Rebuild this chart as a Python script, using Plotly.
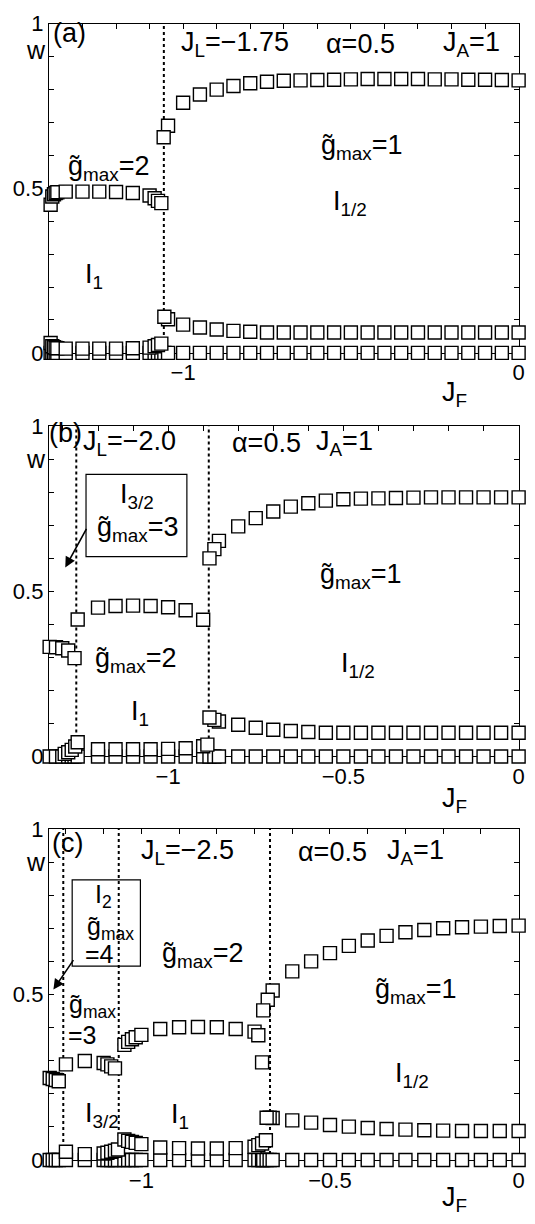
import plotly.graph_objects as go

FONT = "Liberation Sans, Arial, Helvetica, sans-serif"
W, H = 535, 1224

# ---------------- panel (a): J_L = -1.75 ----------------
a_up_J = [0.0, -0.05, -0.1, -0.15, -0.2, -0.25, -0.3, -0.35, -0.4, -0.45, -0.5, -0.55,
          -0.6, -0.65, -0.7, -0.75, -0.8, -0.85, -0.9, -0.95, -1.0, -1.045, -1.058]
a_up_w = [0.828, 0.829, 0.830, 0.830, 0.831, 0.831, 0.832, 0.832, 0.832, 0.832, 0.831, 0.830,
          0.829, 0.828, 0.827, 0.824, 0.819, 0.811, 0.80, 0.785, 0.76, 0.69, 0.655]
a_low_J = [0.0, -0.05, -0.1, -0.15, -0.2, -0.25, -0.3, -0.35, -0.4, -0.45, -0.5, -0.55,
           -0.6, -0.65, -0.7, -0.75, -0.8, -0.85, -0.9, -0.95, -1.0, -1.045, -1.056]
a_low_w = [0.062, 0.062, 0.062, 0.062, 0.062, 0.062, 0.062, 0.062, 0.062, 0.062, 0.062, 0.062,
           0.062, 0.062, 0.062, 0.062, 0.064, 0.067, 0.071, 0.077, 0.086, 0.102, 0.11]
a_mid_J = [-1.395, -1.39, -1.385, -1.38, -1.375, -1.35, -1.3, -1.25, -1.2, -1.15, -1.1,
           -1.085, -1.075, -1.065]
a_mid_w = [0.45, 0.475, 0.482, 0.486, 0.488, 0.49, 0.49, 0.49, 0.489, 0.486, 0.478,
           0.47, 0.462, 0.455]
a_sml_J = [-1.395, -1.39, -1.385, -1.38, -1.375, -1.35, -1.3, -1.25, -1.2, -1.15, -1.1,
           -1.085, -1.075, -1.065]
a_sml_w = [0.03, 0.02, 0.017, 0.015, 0.014, 0.013, 0.013, 0.013, 0.013, 0.014, 0.016,
           0.02, 0.024, 0.028]
a_zero_J = [-1.395, -1.39, -1.385, -1.38, -1.375, -1.35, -1.3, -1.25, -1.2, -1.15, -1.1,
            -1.085, -1.075, -1.065, -1.056, -1.045, -1.0, -0.95, -0.9, -0.85, -0.8, -0.75,
            -0.7, -0.65, -0.6, -0.55, -0.5, -0.45, -0.4, -0.35, -0.3, -0.25, -0.2, -0.15,
            -0.1, -0.05, 0.0]
a_trans = [-1.0575]

# ---------------- panel (b): J_L = -2.0 ----------------
b_left_J = [-1.338, -1.32, -1.302, -1.285, -1.267]
b_left_w = [0.332, 0.331, 0.328, 0.321, 0.298]
b_mid_J = [-1.258, -1.2, -1.15, -1.1, -1.05, -1.0, -0.95, -0.9]
b_mid_w = [0.415, 0.451, 0.456, 0.457, 0.456, 0.452, 0.443, 0.414]
b_up_J = [0.0, -0.05, -0.1, -0.15, -0.2, -0.25, -0.3, -0.35, -0.4, -0.45, -0.5, -0.55,
          -0.6, -0.65, -0.7, -0.75, -0.8, -0.855, -0.868, -0.882]
b_up_w = [0.785, 0.785, 0.785, 0.785, 0.785, 0.785, 0.784, 0.783, 0.782, 0.781, 0.779, 0.775,
          0.767, 0.757, 0.742, 0.722, 0.697, 0.653, 0.628, 0.60]
b_low_J = [0.0, -0.05, -0.1, -0.15, -0.2, -0.25, -0.3, -0.35, -0.4, -0.45, -0.5, -0.55,
           -0.6, -0.65, -0.7, -0.75, -0.8, -0.855, -0.868, -0.882]
b_low_w = [0.072, 0.072, 0.072, 0.072, 0.072, 0.072, 0.072, 0.072, 0.072, 0.072, 0.072, 0.072,
           0.074, 0.077, 0.081, 0.087, 0.096, 0.106, 0.111, 0.118]
b_sml_J = [-1.295, -1.285, -1.275, -1.265, -1.258, -1.2, -1.15, -1.1, -1.05, -1.0, -0.95,
           -0.9, -0.888]
b_sml_w = [0.008, 0.013, 0.02, 0.03, 0.043, 0.022, 0.022, 0.022, 0.022, 0.023, 0.025,
           0.031, 0.036]
b_zero_J = [-1.338, -1.32, -1.302, -1.285, -1.275, -1.267, -1.258, -1.2, -1.15, -1.1, -1.05,
            -1.0, -0.95, -0.9, -0.882, -0.868, -0.855, -0.8, -0.75, -0.7, -0.65, -0.6,
            -0.55, -0.5, -0.45, -0.4, -0.35, -0.3, -0.25, -0.2, -0.15, -0.1, -0.05, 0.0]
b_trans = [-1.262, -0.884]

# ---------------- panel (c): J_L = -2.5 ----------------
c_i2_J = [-1.243, -1.235, -1.227, -1.219]
c_i2_w = [0.248, 0.245, 0.242, 0.238]
c_i32_J = [-1.2, -1.15, -1.1, -1.09, -1.08, -1.07]
c_i32_w = [0.289, 0.299, 0.293, 0.289, 0.283, 0.277]
c_i1_J = [-1.045, -1.035, -1.025, -1.015, -1.0, -0.95, -0.9, -0.85, -0.8, -0.75, -0.7,
          -0.69, -0.68]
c_i1_w = [0.348, 0.357, 0.365, 0.371, 0.378, 0.396, 0.401, 0.402, 0.401, 0.396, 0.388,
          0.377, 0.295]
c_up_J = [0.0, -0.05, -0.1, -0.15, -0.2, -0.25, -0.3, -0.35, -0.4, -0.45, -0.5, -0.55,
          -0.6, -0.652, -0.665, -0.677]
c_up_w = [0.708, 0.707, 0.705, 0.703, 0.700, 0.695, 0.688, 0.677, 0.663, 0.647, 0.625, 0.600,
          0.570, 0.512, 0.484, 0.452]
c_low_J = [0.0, -0.05, -0.1, -0.15, -0.2, -0.25, -0.3, -0.35, -0.4, -0.45, -0.5, -0.55,
           -0.6, -0.652, -0.66, -0.668]
c_low_w = [0.088, 0.088, 0.088, 0.088, 0.089, 0.090, 0.092, 0.094, 0.097, 0.101, 0.106, 0.113,
           0.120, 0.127, 0.128, 0.128]
c_s1_J = [-1.045, -1.035, -1.025, -1.015, -1.0, -0.95, -0.9, -0.85, -0.8, -0.75, -0.7,
          -0.69, -0.68, -0.67]
c_s1_w = [0.062, 0.058, 0.055, 0.052, 0.048, 0.038, 0.036, 0.035, 0.035, 0.036, 0.04,
          0.045, 0.05, 0.06]
c_s2_J = [-1.2, -1.15, -1.1, -1.09, -1.08, -1.07, -1.062]
c_s2_w = [0.025, 0.018, 0.02, 0.022, 0.025, 0.028, 0.032]
c_zero_J = [-1.243, -1.235, -1.227, -1.219, -1.2, -1.15, -1.1, -1.09, -1.08, -1.07, -1.062,
            -1.045, -1.035, -1.025, -1.015, -1.0, -0.95, -0.9, -0.85, -0.8, -0.75, -0.7,
            -0.69, -0.68, -0.677, -0.668, -0.66, -0.652, -0.6, -0.55, -0.5, -0.45, -0.4,
            -0.35, -0.3, -0.25, -0.2, -0.15, -0.1, -0.05, 0.0]
c_trans = [-1.207, -1.06, -0.659]

# ---------------- axes ticks ----------------
x_minor = [-1.4, -1.3, -1.2, -1.1, -1.0, -0.9, -0.8, -0.7, -0.6, -0.5, -0.4, -0.3, -0.2, -0.1, 0.0]
xlab_a = {-1.0: "\u22121", 0.0: "0"}
xlab_bc = {-1.0: "\u22121", -0.5: "\u22120.5", 0.0: "0"}
y_minor = [0.0, 0.1, 0.2, 0.3, 0.4, 0.5, 0.6, 0.7, 0.8, 0.9, 1.0]
ylab = {0.0: "0", 0.5: "0.5", 1.0: "1"}

x_ranges = [[-1.4, 0.0], [-1.34, 0.0], [-1.245, 0.0]]
# panel frames in pixels (top, bottom)
frames = [(12, 348), (423, 760), (834, 1172)]
XL, XR = 49.5, 524.5

panels = [
    [(a_zero_J, None), (a_sml_J, a_sml_w), (a_mid_J, a_mid_w), (a_low_J, a_low_w), (a_up_J, a_up_w)],
    [(b_zero_J, None), (b_sml_J, b_sml_w), (b_left_J, b_left_w), (b_mid_J, b_mid_w),
     (b_low_J, b_low_w), (b_up_J, b_up_w)],
    [(c_zero_J, None), (c_s2_J, c_s2_w), (c_s1_J, c_s1_w), (c_i2_J, c_i2_w), (c_i32_J, c_i32_w),
     (c_i1_J, c_i1_w), (c_low_J, c_low_w), (c_up_J, c_up_w)],
]
transitions = [a_trans, b_trans, c_trans]

fig = go.Figure()
marker = dict(symbol="square", size=13, color="white", line=dict(color="black", width=1.4))

for i, series in enumerate(panels):
    sfx = "" if i == 0 else str(i + 1)
    for xs, ys in series:
        if ys is None:
            ys = [0.0 for _ in xs]
        fig.add_trace(go.Scatter(x=xs, y=ys, mode="markers", marker=marker,
                                 cliponaxis=False, showlegend=False, hoverinfo="skip",
                                 xaxis="x" + sfx, yaxis="y" + sfx))
    for t in transitions[i]:
        fig.add_shape(type="line", x0=t, x1=t, y0=0, y1=1, xref="x" + sfx, yref="y" + sfx,
                      line=dict(color="black", width=2, dash="dot"), layer="below")

    top, bot = frames[i]
    xr = x_ranges[i]
    xlab = xlab_a if i == 0 else xlab_bc
    xt = [v for v in x_minor if v >= xr[0] - 1e-9]
    axis_common = dict(showline=True, linecolor="black", linewidth=1.2, mirror="ticks",
                       ticks="inside", ticklen=5, tickwidth=1, tickcolor="black",
                       showgrid=False, zeroline=False, layer="below traces",
                       tickfont=dict(family=FONT, size=22, color="black"))
    fig.layout["xaxis" + sfx] = dict(
        domain=[XL / W, XR / W], range=xr, anchor="y" + sfx,
        tickmode="array", tickvals=xt, ticktext=[xlab.get(round(v, 2), "") for v in xt],
        **axis_common)
    fig.layout["yaxis" + sfx] = dict(
        domain=[1 - bot / H, 1 - top / H], range=[0, 1], anchor="x" + sfx,
        tickmode="array", tickvals=y_minor,
        ticktext=[ylab.get(round(v, 2), "") for v in y_minor],
        **axis_common)


def P(xp, yp):
    return xp / W, 1 - yp / H


G = "g\u0303"
# (text, x px, y px, font size)
texts = [
    # panel (a)
    ("(a)", 70, 21, 27), ("J<sub>L</sub>=\u22121.75", 238, 33, 27), ("\u03b1=0.5", 365, 33, 27),
    ("J<sub>A</sub>=1", 477, 33, 27), (G + "<sub>max</sub>=1", 366, 138, 27),
    (G + "<sub>max</sub>=2", 110, 159, 27), ("I<sub>1/2</sub>", 354, 195, 27),
    ("I<sub>1</sub>", 95, 270, 27), ("J<sub>F</sub>", 460, 390, 27), ("w", 36, 39, 25),
    # panel (b)
    ("(b)", 66, 430, 27), ("J<sub>L</sub>=\u22122.0", 131, 440, 27), ("\u03b1=0.5", 270, 440, 27),
    ("J<sub>A</sub>=1", 348, 440, 27), ("I<sub>3/2</sub>", 139, 494, 27),
    (G + "<sub>max</sub>=3", 140, 528, 27), (G + "<sub>max</sub>=1", 365, 576, 27),
    (G + "<sub>max</sub>=2", 138, 662, 27), ("I<sub>1/2</sub>", 362, 667, 27),
    ("I<sub>1</sub>", 142, 716, 27), ("J<sub>F</sub>", 460, 804, 27), ("w", 36, 456, 25),
    # panel (c)
    ("(c)", 68, 848, 27), ("J<sub>L</sub>=\u22122.5", 190, 858, 27), ("\u03b1=0.5", 336, 858, 27),
    ("J<sub>A</sub>=1", 420, 858, 27), ("I<sub>2</sub>", 105, 902, 25),
    (G + "<sub>max</sub>", 112, 935, 25), ("=4", 101, 962, 25),
    (G + "<sub>max</sub>", 94, 1015, 25), ("=3", 83, 1044, 25),
    (G + "<sub>max</sub>=2", 205, 963, 27), (G + "<sub>max</sub>=1", 421, 999, 27),
    ("I<sub>1/2</sub>", 417, 1085, 27), ("I<sub>3/2</sub>", 103, 1126, 27),
    ("I<sub>1</sub>", 182, 1127, 27), ("J<sub>F</sub>", 460, 1212, 27), ("w", 36, 868, 25),
]
for t, xp, yp, fs in texts:
    x, y = P(xp, yp)
    fig.add_annotation(text=t, x=x, y=y, xref="paper", yref="paper", showarrow=False,
                       xanchor="center", yanchor="middle", borderpad=0,
                       font=dict(family=FONT, size=fs, color="black"))

# boxes (pixel rectangles)
for (x0, y0, x1, y1) in [(87, 472, 189, 556), (73, 886, 142, 974)]:
    a0, b0 = P(x0, y0)
    a1, b1 = P(x1, y1)
    fig.add_shape(type="rect", x0=a0, x1=a1, y0=b1, y1=b0, xref="paper", yref="paper",
                  line=dict(color="black", width=1.2), fillcolor="rgba(0,0,0,0)")

# arrows: (tail, head) in pixels
for (tx, ty, hx, hy) in [(88, 527, 66, 567), (75, 967, 54, 998)]:
    x, y = P(hx, hy)
    fig.add_annotation(text="", x=x, y=y, xref="paper", yref="paper", showarrow=True,
                       ax=tx - hx, ay=ty - hy, axref="pixel", ayref="pixel",
                       arrowhead=2, arrowsize=1.3, arrowwidth=1.6, arrowcolor="black",
                       standoff=0)

fig.update_layout(width=W, height=H, margin=dict(l=0, r=0, t=0, b=0),
                  paper_bgcolor="white", plot_bgcolor="white",
                  font=dict(family=FONT, color="black"), showlegend=False)

fig.write_html("out.html", config={"displayModeBar": False},
               post_script="document.body.style.margin='0';"
                           "document.body.style.overflow='hidden';")
